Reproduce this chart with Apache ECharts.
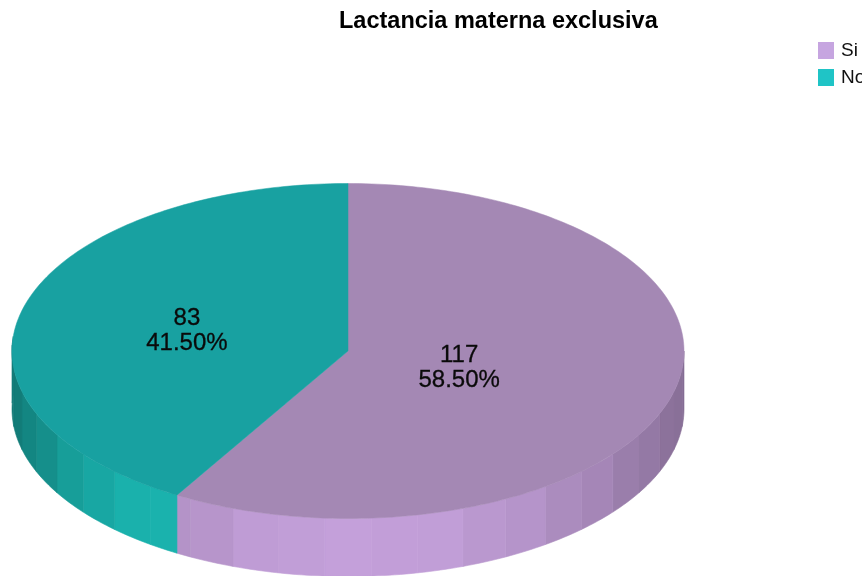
<!DOCTYPE html>
<html><head><meta charset="utf-8">
<style>html,body{margin:0;padding:0;background:#fff}#c{width:866px;height:576px}</style>
<script src="https://cdn.jsdelivr.net/npm/echarts@6/dist/echarts.min.js"></script>
</head><body><div id="c"></div>
<script>
const chartTitle = 'Lactancia materna exclusiva';
const categories = ['Si', 'No'];
const counts = [117, 83];
const percentLabels = ['58.50%', '41.50%'];

const topColors = ['#a488b4', '#18a1a1'];
const sideColors = ['#c4a0da', '#1ab3ae'];
const legendColors = ['#c6a5e0', '#1fc4c6'];
const labelReach = [0.343, 0.497];
const shadePeak = [178, 212];
const shadeSpread = [1, 1.6];

const CX = 348, CY = 351, RX = 336, RY = 167.5, DEPTH = 58, BAND = 8;
const total = counts.reduce((a, b) => a + b, 0);
const pt = (deg, dy = 0, k = 1) => {
  const a = deg * Math.PI / 180;
  return [CX + RX * k * Math.sin(a), CY - RY * k * Math.cos(a) + dy];
};
function shade(hex, f) {
  const n = parseInt(hex.slice(1), 16);
  const c = [n >> 16, (n >> 8) & 255, n & 255].map(v => Math.round(v * f));
  return `rgb(${c[0]},${c[1]},${c[2]})`;
}
function arc(from, to, dy) {
  const pts = [], steps = Math.max(2, Math.ceil(Math.abs(to - from)));
  for (let i = 0; i <= steps; i++) pts.push(pt(from + (to - from) * i / steps, dy));
  return pts;
}
function makeRender(idx) {
  const before = counts.slice(0, idx).reduce((a, b) => a + b, 0);
  return function (params, api) {
    const value = api.value(0);
    const start = before / total * 360, end = start + value / total * 360;
    const children = [];
    const sFrom = Math.max(start, 90), sTo = Math.min(end, 275);
    if (sTo > sFrom) {
      let k = 0;
      for (let a = Math.floor(sFrom / BAND) * BAND; a < sTo; a += BAND, k++) {
        const a0 = Math.max(a, sFrom), a1 = Math.min(a + BAND, sTo);
        if (a1 <= a0) continue;
        const c = Math.cos((((a0 + a1) / 2) - shadePeak[idx]) * shadeSpread[idx] * Math.PI / 180);
        const f = (0.68 + 0.32 * c * c) * (k % 2 ? 1.006 : 0.994);
        const col = shade(sideColors[idx], Math.min(f, 1));
        children.push({
          type: 'polygon', z2: 1, silent: true,
          shape: { points: arc(a0, a1, 0).concat(arc(a1, a0, DEPTH)) },
          style: { fill: col, stroke: col, lineWidth: 0.6 }
        });
      }
    }
    children.push({
      type: 'polygon', z2: 2, silent: true,
      shape: { points: [[CX, CY]].concat(arc(start, end, 0)) },
      style: { fill: topColors[idx], stroke: topColors[idx], lineWidth: 0.5 }
    });
    const lp = pt((start + end) / 2, 0, labelReach[idx]);
    children.push({
      type: 'text', z2: 5, silent: true, x: lp[0], y: lp[1] + 2,
      style: {
        text: value + '\n' + percentLabels[idx],
        fill: '#0a0a0a', font: '24px "Liberation Sans", Arial, sans-serif',
        lineHeight: 25, align: 'center', verticalAlign: 'middle',
        stroke: '#0a0a0a', lineWidth: 0.3
      }
    });
    return { type: 'group', children };
  };
}
const chart = echarts.init(document.getElementById('c'), null, { renderer: 'canvas' });
chart.setOption({
  animation: false,
  backgroundColor: '#fff',
  title: {
    text: chartTitle, left: 339, top: 10, padding: 0,
    textStyle: { color: '#000', fontFamily: '"Liberation Sans", Arial, sans-serif', fontWeight: 'bold', fontSize: 23.5 }
  },
  legend: {
    orient: 'vertical', left: 818, top: 41, padding: 0, itemGap: 8,
    itemWidth: 16, itemHeight: 17, icon: 'rect',
    textStyle: { color: '#111', fontFamily: '"Liberation Sans", Arial, sans-serif', fontSize: 19, padding: [7, 0, 0, 2] },
    data: categories.map((c, i) => ({ name: c, itemStyle: { color: legendColors[i] } }))
  },
  graphic: [{ type: 'rect', z: 100, silent: true, shape: { x: 862, y: 60, width: 4, height: 30 }, style: { fill: '#fff' } }],
  series: categories.map((c, i) => ({
    type: 'custom', name: c, coordinateSystem: 'none',
    itemStyle: { color: legendColors[i] },
    renderItem: makeRender(i),
    data: [[counts[i]]]
  }))
});
</script></body></html>
